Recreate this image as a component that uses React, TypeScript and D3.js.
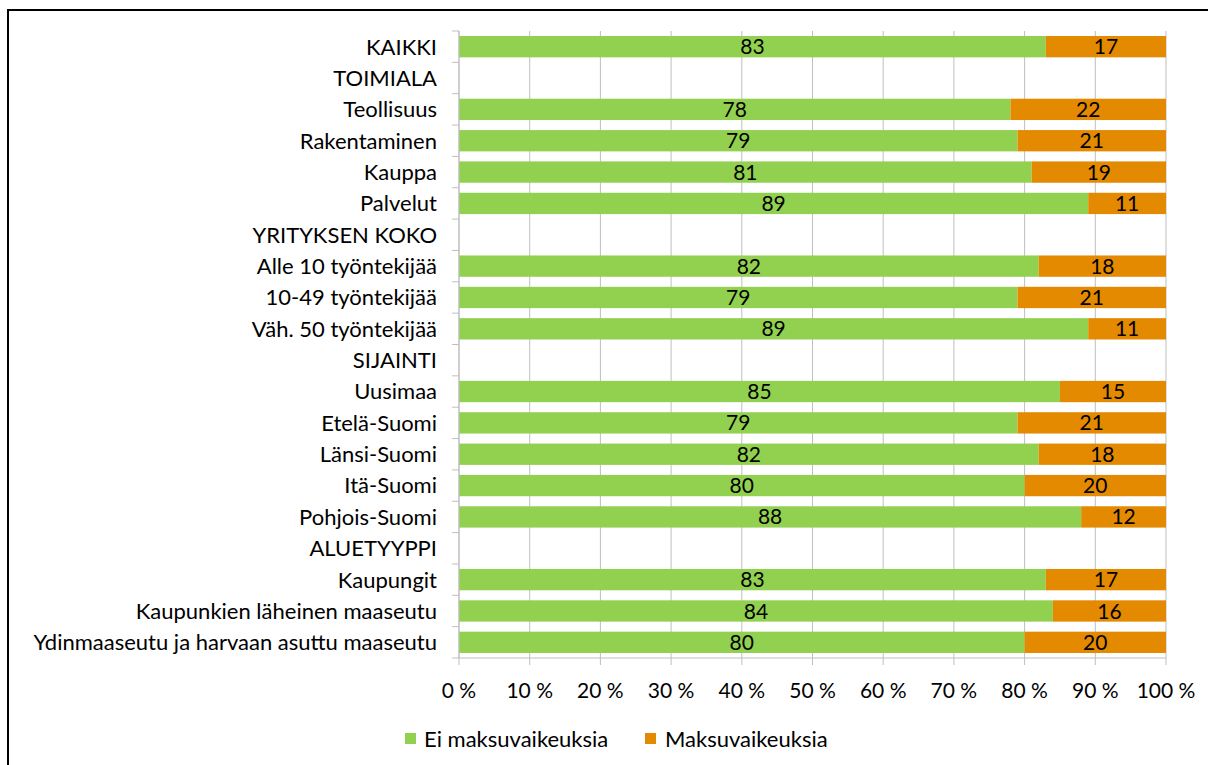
import React from "react";
import * as d3 from "d3";

const categories = [
  "KAIKKI",
  "TOIMIALA",
  "Teollisuus",
  "Rakentaminen",
  "Kauppa",
  "Palvelut",
  "YRITYKSEN KOKO",
  "Alle 10 työntekijää",
  "10-49 työntekijää",
  "Väh. 50 työntekijää",
  "SIJAINTI",
  "Uusimaa",
  "Etelä-Suomi",
  "Länsi-Suomi",
  "Itä-Suomi",
  "Pohjois-Suomi",
  "ALUETYYPPI",
  "Kaupungit",
  "Kaupunkien läheinen maaseutu",
  "Ydinmaaseutu ja harvaan asuttu maaseutu",
];

const eiMaksuvaikeuksia: (number | null)[] = [83, null, 78, 79, 81, 89, null, 82, 79, 89, null, 85, 79, 82, 80, 88, null, 83, 84, 80];
const maksuvaikeuksia: (number | null)[] = [17, null, 22, 21, 19, 11, null, 18, 21, 11, null, 15, 21, 18, 20, 12, null, 17, 16, 20];

const seriesNames = ["Ei maksuvaikeuksia", "Maksuvaikeuksia"];
const seriesColors = ["#92D050", "#E38A00"];
const xTicks = [0, 10, 20, 30, 40, 50, 60, 70, 80, 90, 100];

const W = 1208;
const H = 765;
const left = 459;
const right = 1166;
const top = 31;
const bottom = 658;
const FONT = "Lato, 'Open Sans', sans-serif";

export default function App() {
  const x = d3.scaleLinear().domain([0, 100]).range([left, right]);
  const y = d3.scaleBand<string>().domain(categories).range([top, bottom]).paddingInner(0.32).paddingOuter(0.16);
  const step = y.step();
  const bandTop = (c: string) => top + categories.indexOf(c) * step;

  return (
    <svg width={W} height={H} style={{ position: "absolute", left: 0, top: 0, background: "#fff" }} fontFamily={FONT}>
      <rect x={0} y={0} width={W} height={H} fill="#fff" />
      <path d={`M8,${H} L8,10 L${W},10`} fill="none" stroke="#000" strokeWidth={2} />
      {xTicks.map((t) => (
        <line key={"g" + t} x1={x(t)} x2={x(t)} y1={top} y2={bottom + 7} stroke="#BFBFBF" strokeWidth={1} />
      ))}
      {categories.map((c, i) => {
        const a = eiMaksuvaikeuksia[i];
        const b = maksuvaikeuksia[i];
        if (a == null || b == null) return null;
        const yy = y(c)!;
        const h = y.bandwidth();
        return (
          <g key={c}>
            <rect x={x(0)} y={yy} width={x(a) - x(0)} height={h} fill={seriesColors[0]} />
            <rect x={x(a)} y={yy} width={x(a + b) - x(a)} height={h} fill={seriesColors[1]} />
            <text x={(x(0) + x(a)) / 2} y={yy + h / 2} dy="0.36em" textAnchor="middle" fontSize={21} fill="#000">{a}</text>
            <text x={(x(a) + x(a + b)) / 2} y={yy + h / 2} dy="0.36em" textAnchor="middle" fontSize={21} fill="#000">{b}</text>
          </g>
        );
      })}
      <line x1={left} x2={left} y1={top} y2={bottom} stroke="#BFBFBF" strokeWidth={1} />
      {d3.range(categories.length + 1).map((i) => (
        <line key={"ct" + i} x1={left - 7} x2={left} y1={top + i * step} y2={top + i * step} stroke="#BFBFBF" strokeWidth={1} />
      ))}
      <line x1={left} x2={right} y1={bottom} y2={bottom} stroke="#BFBFBF" strokeWidth={1} />
      {categories.map((c) => (
        <text key={"l" + c} x={437} y={bandTop(c) + step / 2} dy="0.36em" textAnchor="end" fontSize={22} fill="#000">{c}</text>
      ))}
      {xTicks.map((t) => (
        <text key={"xt" + t} x={x(t)} y={690} dy="0.36em" textAnchor="middle" fontSize={21} fill="#000">{`${t} %`}</text>
      ))}
      <rect x={405} y={733} width={11} height={11} fill={seriesColors[0]} />
      <text x={424} y={739} dy="0.36em" fontSize={22} fill="#000">{seriesNames[0]}</text>
      <rect x={645} y={733} width={11} height={11} fill={seriesColors[1]} />
      <text x={665} y={739} dy="0.36em" fontSize={22} fill="#000">{seriesNames[1]}</text>
    </svg>
  );
}
